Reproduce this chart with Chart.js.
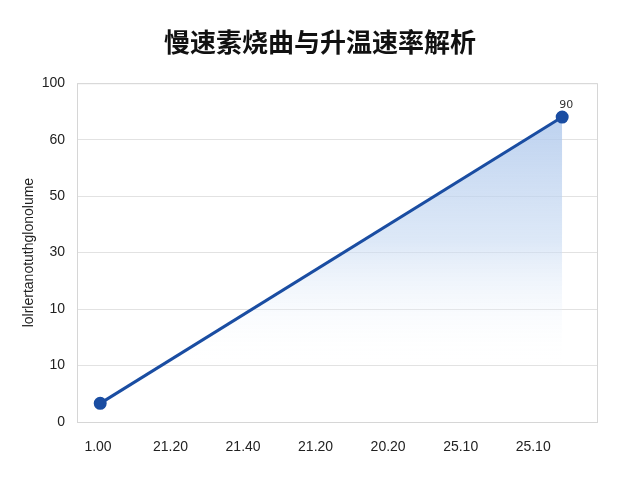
<!DOCTYPE html>
<html>
<head>
<meta charset="utf-8">
<script src="https://cdn.jsdelivr.net/npm/chart.js@4"></script>
<style>
    body { margin: 0; background: #fff; }
    #wrap { width: 640px; height: 480px; }
</style>
</head>
<body>
<div id="wrap"><canvas id="chart"></canvas></div>
<script>
// data
const xTickLabels = ['1.00', '21.20', '21.40', '21.20', '20.20', '25.10', '25.10']
const yTickLabels = ['0', '10', '10', '30', '50', '60', '100'] // bottom to top
const xValues = [0.03, 6.4]
const yValues = [5.5, 90]
const pointLabels = ['', '90']

const lineColor = '#1a4da2'

function fillGradient(context) {
    const chart = context.chart
    const yScale = chart.scales.y
    if (!chart.chartArea || !yScale) return 'rgba(180,200,235,0.5)'
    const top = yScale.getPixelForValue(Math.max(...yValues))
    const bottom = yScale.getPixelForValue(100 / 6)
    const g = chart.ctx.createLinearGradient(0, top, 0, bottom)
    g.addColorStop(0, 'rgba(172,198,235,0.8)')
    g.addColorStop(0.5, 'rgba(198,217,242,0.6)')
    g.addColorStop(1, 'rgba(255,255,255,0)')
    return g
}

// frame round the plot area
const frame = {
    id: 'frame',
    beforeDatasetsDraw(chart) {
        const a = chart.chartArea
        const ctx = chart.ctx
        ctx.save()
        ctx.strokeStyle = '#d6d6d6'
        ctx.lineWidth = 1
        ctx.strokeRect(a.left + 0.5, a.top + 0.5, a.right - a.left, a.bottom - a.top)
        ctx.restore()
    }
}

// small value label over the last point
const valueLabels = {
    id: 'valueLabels',
    afterDatasetsDraw(chart) {
        const meta = chart.getDatasetMeta(0)
        const ctx = chart.ctx
        ctx.save()
        ctx.font = '11px "DejaVu Sans", sans-serif'
        ctx.fillStyle = '#333'
        ctx.textAlign = 'center'
        ctx.textBaseline = 'bottom'
        meta.data.forEach((pt, i) => {
            if (pointLabels[i]) ctx.fillText(pointLabels[i], pt.x + 4, pt.y - 6)
        })
        ctx.restore()
    }
}

new Chart(document.getElementById('chart'), {
    type: 'line',
    data: {
        datasets: [{
            data: xValues.map((x, i) => ({ x: x, y: yValues[i] })),
            borderColor: lineColor,
            borderWidth: 3,
            pointRadius: 5,
            pointBackgroundColor: lineColor,
            pointBorderColor: lineColor,
            fill: 'origin',
            backgroundColor: fillGradient,
            tension: 0
        }]
    },
    options: {
        responsive: true,
        maintainAspectRatio: false,
        animation: false,
        layout: { padding: 0 },
        plugins: {
            legend: { display: false },
            tooltip: { enabled: false },
            title: {
                display: true,
                text: '慢速素烧曲与升温速率解析',
                color: '#111',
                font: { size: 26, weight: 'bold', family: '"Noto Sans CJK SC", sans-serif' },
                padding: { top: 27, bottom: 25 }
            }
        },
        scales: {
            x: {
                type: 'linear',
                min: -0.29,
                max: 6.88,
                afterBuildTicks: scale => {
                    scale.ticks = xTickLabels.map((_, i) => ({ value: i }))
                },
                afterFit: scale => { scale.height = 58 },
                grid: { display: false },
                border: { display: false },
                ticks: {
                    padding: 9,
                    color: '#222',
                    maxRotation: 0,
                    autoSkip: false,
                    font: { size: 14, family: '"Liberation Sans", Arial, sans-serif' },
                    callback: (v, i) => xTickLabels[i]
                }
            },
            y: {
                min: 0,
                max: 100,
                afterBuildTicks: scale => {
                    scale.ticks = yTickLabels.map((_, i) => ({ value: i * 100 / 6 }))
                },
                afterFit: scale => { scale.width = 77 },
                grid: { color: '#e2e2e2', drawTicks: false },
                border: { display: false },
                ticks: {
                    padding: 12,
                    color: '#222',
                    autoSkip: false,
                    font: { size: 14, family: '"Liberation Sans", Arial, sans-serif' },
                    callback: (v, i) => yTickLabels[i]
                },
                title: {
                    display: true,
                    text: 'lolrlertanotuthglonolume',
                    color: '#222',
                    font: { size: 14, family: '"Liberation Sans", Arial, sans-serif' },
                    padding: { top: 21, bottom: 0 }
                }
            },
            // empty right axis, only keeps the right margin so the title stays centred
            yRight: {
                position: 'right',
                display: true,
                afterFit: scale => { scale.width = 43 },
                grid: { display: false },
                border: { display: false },
                ticks: { display: false }
            }
        }
    },
    plugins: [frame, valueLabels]
})
</script>
</body>
</html>
